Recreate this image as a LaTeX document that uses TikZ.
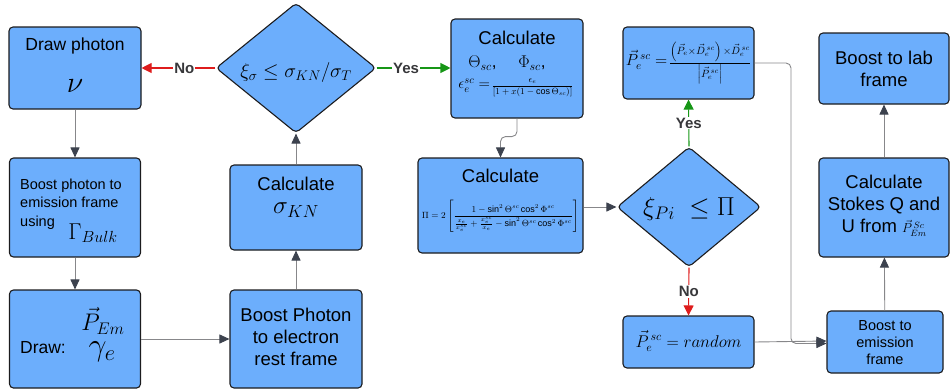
\RequirePackage{fix-cm}
\documentclass[tikz,border=0pt]{standalone}
\usepackage{amsmath}
\usepackage{fontspec}
\setmainfont{Liberation Sans}
\usetikzlibrary{arrows.meta,shapes.geometric,calc}
\definecolor{boxfill}{RGB}{108,174,252}
\definecolor{boxline}{RGB}{28,28,30}
\definecolor{conn}{RGB}{135,135,138}
\definecolor{tipc}{RGB}{60,66,78}
\definecolor{nored}{RGB}{222,28,28}
\definecolor{yesgreen}{RGB}{22,150,22}
\definecolor{lblc}{RGB}{55,55,58}
\newcommand{\fs}[1]{\fontsize{#1}{1.2\dimexpr #1pt\relax}\selectfont}
\newcommand{\fsb}[2]{\fontsize{#1}{#2}\selectfont}
\tikzset{
  box/.style={draw=boxline, fill=boxfill, line width=1.1pt, rounded corners=4pt, inner sep=0pt},
  dia/.style={draw=boxline, fill=boxfill, line width=1.1pt, rounded corners=4pt, diamond, inner sep=0pt},
  txt/.style={inner sep=0pt, align=center, text=black},
  arr/.style={draw=conn, line width=0.9pt, -{Triangle[length=10pt,width=9pt,color=tipc]}},
  noarr/.style={draw=nored, line width=1.1pt, -{Triangle[length=10pt,width=10pt,color=nored]}},
  yesarr/.style={draw=yesgreen, line width=1.1pt, -{Triangle[length=10pt,width=10pt,color=yesgreen]}},
  lbl/.style={fill=white, inner sep=1pt, text=lblc, font=\fs{15}\bfseries}
}
\begin{document}
\begin{tikzpicture}[x=1pt,y=-1pt]
\useasboundingbox (0,0) rectangle (950,389);
% boxes
\node[box, minimum width=132pt, minimum height=82pt] (photon) at (75,68) {};
\node[box, minimum width=131pt, minimum height=99pt] (boostem1) at (75,207.5) {};
\node[box, minimum width=131pt, minimum height=98pt] (drawP) at (75,339) {};
\node[box, minimum width=132pt, minimum height=98pt] (boostRest) at (296,339) {};
\node[box, minimum width=132pt, minimum height=85pt] (sigma) at (296,207.5) {};
\node[dia, minimum width=160pt, minimum height=130pt] (d1) at (296,68) {};
\node[box, minimum width=132pt, minimum height=99pt] (theta) at (517,68.5) {};
\node[box, minimum width=165pt, minimum height=95pt] (pibox) at (500.5,205.5) {};
\node[dia, minimum width=144pt, minimum height=120pt] (d2) at (689,207) {};
\node[box, minimum width=131pt, minimum height=72pt] (pebox) at (688.5,63) {};
\node[box, minimum width=131pt, minimum height=52pt] (random) at (688.5,342) {};
\node[box, minimum width=116pt, minimum height=62pt] (boostem2) at (885,342) {};
\node[box, minimum width=130pt, minimum height=99pt] (stokes) at (884,207.5) {};
\node[box, minimum width=130pt, minimum height=71pt] (lab) at (884,68.5) {};
% texts
\node[txt, font=\fs{17.5}] (photonA) at (75,46) {Draw photon};
\node[txt, font=\fs{30}] (photonB) at (75,86) {$\nu$};
\node[txt, font=\fs{20}] (d1t) at (296,72) {$\xi_\sigma \le \sigma_{KN}/\sigma_T$};
\node[txt, font=\fs{18.5}] (thetaA) at (517,38) {Calculate};
\node[txt, font=\fs{17}] (thetaB) at (507,63) {$\Theta_{sc}$,\quad\ $\Phi_{sc}$,};
\node[txt] (thetaC) at (516,88) {{\fs{15}$\epsilon_e^{sc} =$}\,{\fs{9}$\dfrac{\epsilon_e}{[1+x(1-\cos\Theta_{sc})]}$}};
\node[txt] (peT) at (688.5,63) {{\fs{16}$\vec P_e^{\,sc} =$}\,{\fs{10.5}$\dfrac{\left(\vec P_e{\times}\vec D_e^{\,sc}\right){\times}\vec D_e^{\,sc}}{\left|\vec P_e^{\,sc}\right|}$}};
\node[txt, font=\fsb{18.5}{22}, align=center] (labT) at (884,68.5) {Boost to lab\\frame};
\node[txt, font=\fsb{14.5}{17.5}, align=left, anchor=west] (bem1T) at (20,193.5) {Boost photon to\\emission frame};
\node[txt, font=\fs{14.5}, anchor=west] (bem1U) at (20,223) {using};
\node[txt, font=\fs{23}] (gammaB) at (93,233) {$\Gamma_{Bulk}$};
\node[txt, font=\fs{18.5}] (sigA) at (296,184) {Calculate};
\node[txt, font=\fs{25}] (sigB) at (296,210) {$\sigma_{KN}$};
\node[txt, font=\fs{18.5}] (piA) at (500.5,176) {Calculate};
\node[txt, font=\fs{9}] (piB) at (500.5,216) {$\Pi = 2\left[\dfrac{1-\sin^2\Theta^{sc}\cos^2\Phi^{sc}}{\frac{x_e}{x_e^{sc}}+\frac{x_e^{sc}}{x_e}-\sin^2\Theta^{sc}\cos^2\Phi^{sc}}\right]$};
\node[txt, font=\fs{26}] (d2t) at (689,209) {$\xi_{Pi}\;\le\Pi$};
\node[txt, font=\fsb{18.5}{22}, align=center] (stokesT) at (884,206) {Calculate\\Stokes Q and\\U from {\fs{13}$\vec P_{Em}^{\,Sc}$}};
\node[txt, font=\fs{17.5}] (drawA) at (43,348) {Draw:};
\node[txt, font=\fs{24}] (drawB) at (103,321) {$\vec P_{Em}$};
\node[txt, font=\fs{32}] (drawC) at (102,352) {$\gamma_e$};
\node[txt, font=\fsb{18.5}{22}, align=center] (brT) at (296,337) {Boost Photon\\to electron\\rest frame};
\node[txt, font=\fs{17}] (randT) at (688.5,341) {$\vec P_e^{\,sc} = random$};
\node[txt, font=\fsb{14.5}{17}, align=center] (bem2T) at (885,343) {Boost to\\emission\\frame};
% connectors
\coordinate (jx) at (791,0);
\draw[arr] (photon) -- (boostem1);
\draw[arr] (boostem1) -- (drawP);
\draw[arr] (drawP) -- (boostRest);
\draw[arr] (boostRest) -- (sigma);
\draw[arr] (sigma) -- (d1);
\draw[noarr] (d1.west) -- node[lbl, pos=0.42] {No} (photon.east);
\draw[yesarr] (d1.east) -- node[lbl, pos=0.4] {Yes} (theta.west |- d1.east);
\draw[arr, rounded corners=5pt] (theta.south) -- ++(0,18) -| (pibox.north);
\draw[arr] (pibox.east |- d2.west) -- (d2.west);
\draw[yesarr] (d2.north) -- node[lbl, pos=0.5] {Yes} (pebox.south);
\draw[noarr] (d2.south) -- node[lbl, pos=0.5] {No} (random.north);
\draw[arr, rounded corners=5pt] (pebox.east) -- (pebox.east -| jx) |- ([yshift=-1.5pt]boostem2.west);
\draw[arr] (random.east) -- ([yshift=1pt]boostem2.west);
\draw[arr] (boostem2) -- (stokes);
\draw[arr] (stokes) -- (lab);
\end{tikzpicture}
\end{document}
